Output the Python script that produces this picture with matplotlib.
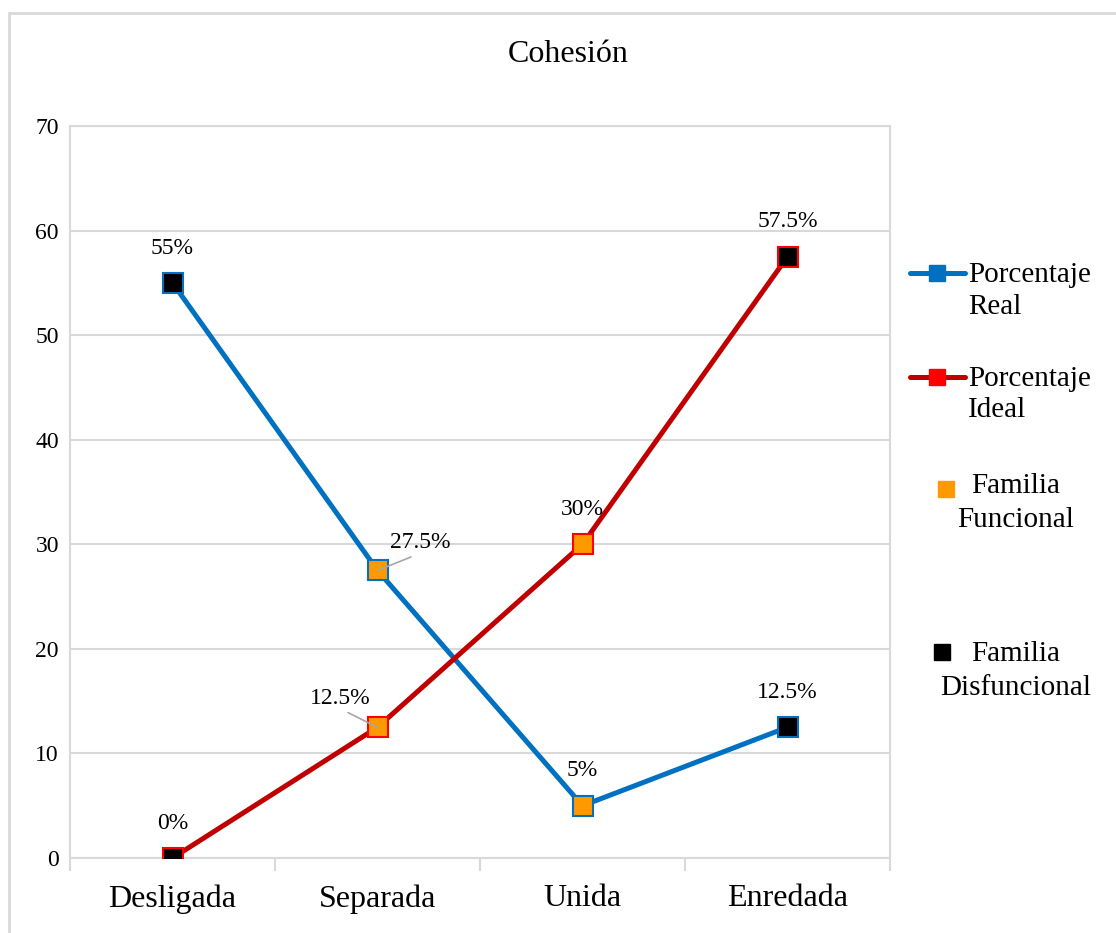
import matplotlib.pyplot as plt
from matplotlib.lines import Line2D
from matplotlib.patches import Rectangle

categories = ['Desligada', 'Separada', 'Unida', 'Enredada']
real_values = [55, 27.5, 5, 12.5]
ideal_values = [0, 12.5, 30, 57.5]
real_labels = ['55%', '27.5%', '5%', '12.5%']
ideal_labels = ['0%', '12.5%', '30%', '57.5%']
# family type per point: 'D' disfuncional (black), 'F' funcional (orange)
real_family = ['D', 'F', 'F', 'D']
ideal_family = ['D', 'F', 'F', 'D']
yticks = [0, 10, 20, 30, 40, 50, 60, 70]

BLUE = '#0070C0'
DARKRED = '#C00000'
RED = '#FF0000'
ORANGE = '#FF9900'
GRID = '#d9d9d9'
fam_color = {'D': 'black', 'F': ORANGE}

plt.rcParams['font.family'] = ['Liberation Serif', 'DejaVu Serif']

W, H = 1116, 933
fig = plt.figure(figsize=(W / 100, H / 100), dpi=100)


def fx(px):
    return px / W


def fy(py):
    return 1 - py / H


ax = fig.add_axes([fx(70), fy(858), fx(890) - fx(70), fy(126) - fy(858)])

x = [i + 0.5 for i in range(len(categories))]
ax.plot(x, real_values, color=BLUE, lw=3.6, zorder=2)
ax.plot(x, ideal_values, color=DARKRED, lw=3.6, zorder=2)
for xi, yi, f in zip(x, real_values, real_family):
    ax.plot(xi, yi, marker='s', ms=15, mfc=fam_color[f], mec=BLUE, mew=1.5, zorder=3)
for xi, yi, f in zip(x, ideal_values, ideal_family):
    ax.plot(xi, yi, marker='s', ms=15, mfc=fam_color[f], mec=RED, mew=1.5, zorder=3)

# data labels
leader = dict(arrowstyle='-', color='#a6a6a6', lw=1.2, relpos=(0.5, 0), shrinkA=2, shrinkB=0)
for i, (xi, yi, lab) in enumerate(zip(x, real_values, real_labels)):
    if i == 1:
        ax.annotate(lab, (xi, yi), xytext=(31, 20), textcoords='offset points',
                    ha='center', va='center', fontsize=17, arrowprops=leader)
    else:
        ax.annotate(lab, (xi, yi), xytext=(0, 25), textcoords='offset points',
                    ha='center', va='center', fontsize=17)
for i, (xi, yi, lab) in enumerate(zip(x, ideal_values, ideal_labels)):
    if i == 1:
        ax.annotate(lab, (xi, yi), xytext=(-27, 21), textcoords='offset points',
                    ha='center', va='center', fontsize=17, arrowprops=leader)
    else:
        ax.annotate(lab, (xi, yi), xytext=(0, 25), textcoords='offset points',
                    ha='center', va='center', fontsize=17)

ax.set_xlim(0, len(categories))
ax.set_ylim(0, 70)
ax.set_yticks(yticks)
ax.set_xticks(range(len(categories) + 1))
ax.set_xticklabels([])
ax.set_xticks(x, minor=True)
ax.set_xticklabels(categories, minor=True, fontsize=23)
ax.tick_params(axis='x', which='minor', length=0, pad=19)
ax.tick_params(axis='x', which='major', length=9, color=GRID, width=1.5)
ax.tick_params(axis='y', length=0, labelsize=17, pad=8)
ax.yaxis.grid(True, color=GRID, lw=1.5)
ax.set_axisbelow(True)
for s in ax.spines.values():
    s.set_color(GRID)
    s.set_linewidth(1.5)

fig.text(fx(568), fy(54), 'Cohesión', ha='center', va='center', fontsize=23)

# legend drawn by hand
fig.add_artist(Line2D([fx(910), fx(965)], [fy(273), fy(273)], color=BLUE, lw=3.6,
                      solid_capstyle='round'))
fig.add_artist(Line2D([fx(937)], [fy(273)], marker='s', ms=11, color=BLUE))
fig.text(fx(968), fy(291), 'Porcentaje\nReal', ha='left', va='center', fontsize=21,
         linespacing=1.25)
fig.add_artist(Line2D([fx(910), fx(965)], [fy(377), fy(377)], color=DARKRED, lw=3.6,
                      solid_capstyle='round'))
fig.add_artist(Line2D([fx(937)], [fy(377)], marker='s', ms=11, color=RED))
fig.text(fx(968), fy(394), 'Porcentaje\nIdeal', ha='left', va='center', fontsize=21,
         linespacing=1.25)
fig.add_artist(Line2D([fx(946)], [fy(489)], marker='s', ms=11, color=ORANGE, lw=0))
fig.text(fx(1016), fy(503), 'Familia\nFuncional', ha='center', va='center', fontsize=21,
         linespacing=1.4, multialignment='center')
fig.add_artist(Line2D([fx(942)], [fy(652)], marker='s', ms=11, color='black', lw=0))
fig.text(fx(1016), fy(671), 'Familia\nDisfuncional', ha='center', va='center', fontsize=21,
         linespacing=1.4, multialignment='center')

# outer chart border
fig.add_artist(Rectangle((fx(9), fy(940)), fx(1200), fy(13) - fy(940), fill=False,
                         edgecolor=GRID, lw=2, transform=fig.transFigure))

fig.savefig('out.png', dpi=100)
